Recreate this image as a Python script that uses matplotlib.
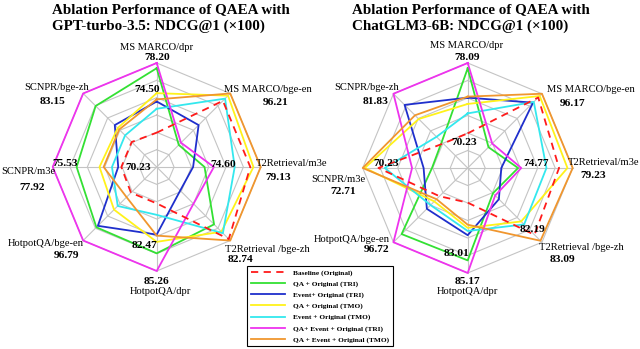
import numpy as np
import matplotlib
matplotlib.use('Agg')
import matplotlib.pyplot as plt

plt.rcParams['font.family'] = ['Liberation Serif', 'DejaVu Serif']

# axes, clockwise from the top
spokes = ['MS MARCO/dpr', 'MS MARCO/bge-en', 'T2Retrieval/m3e', 'T2Retrieval /bge-zh',
          'HotpotQA/dpr', 'HotpotQA/bge-en', 'SCNPR/m3e', 'SCNPR/bge-zh']

series_names = ['Baseline (Original)', 'QA + Original (TRI)', 'Event+ Original (TRI)',
                'QA + Original (TMO)', 'Event + Original (TMO)',
                'QA+ Event + Original (TRI)', 'QA + Event + Original (TMO)']

# normalised radius on each axis (0 = centre, 1 = outer ring)
gpt_baseline = [0.33, 0.90, 0.90, 0.98, 0.35, 0.35, 0.34, 0.34]
gpt_qa_tri   = [0.95, 0.30, 0.46, 0.78, 0.83, 0.82, 0.77, 0.83]
gpt_ev_tri   = [0.63, 0.57, 0.35, 0.32, 0.65, 0.80, 0.37, 0.57]
gpt_qa_tmo   = [0.71, 0.97, 0.93, 0.88, 0.72, 0.58, 0.55, 0.53]
gpt_ev_tmo   = [0.56, 0.93, 0.75, 0.90, 0.46, 0.53, 0.43, 0.43]
gpt_all_tri  = [1.00, 0.33, 0.55, 0.50, 1.00, 1.00, 1.00, 1.00]
gpt_all_tmo  = [0.65, 1.00, 1.00, 1.00, 0.66, 0.41, 0.51, 0.51]

glm_baseline = [0.33, 0.95, 0.87, 0.90, 0.33, 0.38, 0.85, 0.33]
glm_qa_tri   = [0.95, 0.28, 0.48, 0.34, 0.88, 0.89, 0.34, 0.35]
glm_ev_tri   = [0.67, 0.88, 0.32, 0.42, 0.64, 0.55, 0.42, 0.85]
glm_qa_tmo   = [0.61, 0.97, 0.95, 0.72, 0.57, 0.45, 0.98, 0.66]
glm_ev_tmo   = [0.52, 0.89, 0.75, 0.76, 0.60, 0.50, 0.79, 0.42]
glm_all_tri  = [1.00, 0.33, 0.51, 0.37, 1.00, 1.00, 0.53, 1.00]
glm_all_tmo  = [0.68, 1.00, 1.00, 0.98, 0.54, 0.42, 1.00, 0.71]

gpt_series = [gpt_baseline, gpt_qa_tri, gpt_ev_tri, gpt_qa_tmo, gpt_ev_tmo, gpt_all_tri, gpt_all_tmo]
glm_series = [glm_baseline, glm_qa_tri, glm_ev_tri, glm_qa_tmo, glm_ev_tmo, glm_all_tri, glm_all_tmo]

colors = ['#FF1A1A', '#33E033', '#1F2FCC', '#FFF21A', '#33E8EE', '#EE33EE', '#F0962E']

titles = ['Ablation Performance of QAEA with\nGPT-turbo-3.5: NDCG@1 (\u00d7100)',
          'Ablation Performance of QAEA with\nChatGLM3-6B: NDCG@1 (\u00d7100)']

# text placed around each chart: (text, x px, y px, bold, align)
gpt_notes = [('MS MARCO/dpr', 157, 48, False, 'center'), ('78.20', 157, 58, True, 'center'),
             ('74.50', 147, 89, True, 'center'),
             ('SCNPR/bge-zh', 57, 88, False, 'center'), ('83.15', 53, 101, True, 'center'),
             ('MS MARCO/bge-en', 268, 89, False, 'center'), ('96.21', 276, 102, True, 'center'),
             ('T2Retrieval/m3e', 292, 164, False, 'center'), ('79.13', 278, 178, True, 'center'),
             ('74.60', 223, 165, True, 'center'), ('70.23', 138, 168, True, 'center'),
             ('75.53', 65, 164, True, 'center'), ('SCNPR/m3e', 1, 172, False, 'left'),
             ('77.92', 32, 188, True, 'center'),
             ('HotpotQA/bge-en', 46, 243, False, 'center'), ('96.79', 67, 256, True, 'center'),
             ('82.47', 145, 245, True, 'center'),
             ('T2Retrieval /bge-zh', 267, 249, False, 'center'), ('82.74', 240, 260, True, 'center'),
             ('85.26', 157, 282, True, 'center'), ('HotpotQA/dpr', 160, 291, False, 'center')]

glm_notes = [('MS MARCO/dpr', 467, 46, False, 'center'), ('78.09', 467, 57, True, 'center'),
             ('SCNPR/bge-zh', 367, 88, False, 'center'), ('81.83', 376, 101, True, 'center'),
             ('MS MARCO/bge-en', 591, 89, False, 'center'), ('96.17', 573, 103, True, 'center'),
             ('70.23', 464, 142, True, 'center'), ('74.77', 536, 164, True, 'center'),
             ('T2Retrieval/m3e', 639, 163, False, 'right'), ('79.23', 593, 176, True, 'center'),
             ('70.23', 386, 164, True, 'center'), ('SCNPR/m3e', 338, 180, False, 'center'),
             ('72.71', 343, 192, True, 'center'),
             ('HotpotQA/bge-en', 352, 240, False, 'center'), ('96.72', 377, 250, True, 'center'),
             ('83.01', 456, 253, True, 'center'), ('82.19', 532, 230, True, 'center'),
             ('T2Retrieval /bge-zh', 581, 248, False, 'center'), ('83.09', 562, 259, True, 'center'),
             ('85.17', 467, 282, True, 'center'), ('HotpotQA/dpr', 467, 291, False, 'center')]

W, H = 640, 349
fig = plt.figure(figsize=(6.4, 3.49), dpi=100)

angles = np.linspace(0, 2 * np.pi, len(spokes), endpoint=False)
ang_closed = np.append(angles, angles[0])


def radar(cx, cy, R, series):
    ax = fig.add_axes([(cx - R) / W, (H - cy - R) / H, 2 * R / W, 2 * R / H], projection='polar')
    ax.set_theta_offset(np.pi / 2)
    ax.set_theta_direction(-1)
    ax.set_ylim(0, 1)
    ax.grid(False)
    ax.set_xticks([])
    ax.set_yticks([])
    ax.spines['polar'].set_visible(False)
    ax.patch.set_alpha(0)
    for k in range(1, 7):
        ax.plot(ang_closed, [k / 6] * len(ang_closed), color='#c4c4c4', lw=0.8, zorder=1, clip_on=False)
    for a in angles:
        ax.plot([a, a], [0, 1], color='#c4c4c4', lw=0.8, zorder=1, clip_on=False)
    lines = []
    for i, vals in enumerate(series):
        v = np.append(vals, vals[0])
        if i == 0:
            ln, = ax.plot(ang_closed, v, color=colors[i], lw=1.3, ls=(0, (4, 3)), zorder=9, clip_on=False)
        else:
            ln, = ax.plot(ang_closed, v, color=colors[i], lw=1.3, zorder=2 + i, clip_on=False)
        lines.append(ln)
    return lines


handles = radar(156.7, 167, 104, gpt_series)
radar(467.7, 168, 105, glm_series)

for notes in (gpt_notes, glm_notes):
    for txt, x, y, bold, align in notes:
        fig.text(x / W, 1 - y / H, txt, ha=align, va='center',
                 fontsize=8.2 if bold else 7.6, fontweight='bold' if bold else 'normal')

fig.text(52 / W, 1 - 18 / H, titles[0], ha='left', va='center', fontsize=10.8,
         fontweight='bold', linespacing=1.25)
fig.text(352 / W, 1 - 18 / H, titles[1], ha='left', va='center', fontsize=10.8,
         fontweight='bold', linespacing=1.25)

leg = fig.legend(handles, series_names, loc='upper left', bbox_to_anchor=(247 / W, 1 - 266 / H),
                 prop={'weight': 'bold', 'size': 5.3}, handlelength=4.6, labelspacing=0.62,
                 borderpad=0.5, handletextpad=1.2, fancybox=False, framealpha=1, borderaxespad=0)
leg.get_frame().set_edgecolor('black')
leg.get_frame().set_linewidth(0.8)

fig.savefig('out.png', dpi=100)
